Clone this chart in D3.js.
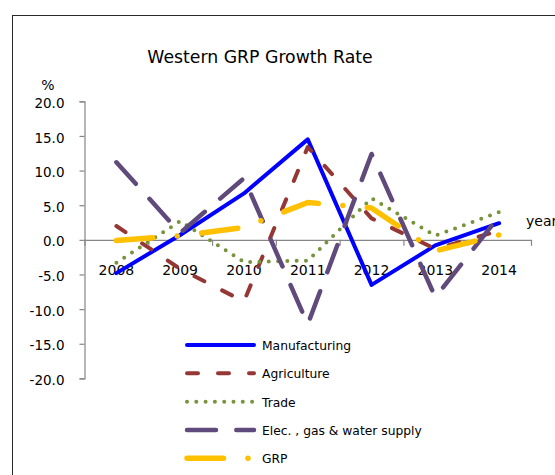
<!DOCTYPE html>
<html>
<head>
<meta charset="utf-8">
<script src="https://cdn.jsdelivr.net/npm/d3@7"></script>
<style>
  html, body { margin: 0; padding: 0; background: #fff; }
  svg { display: block; font-family: "DejaVu Sans", Verdana, sans-serif; }
</style>
</head>
<body>
<svg id="chart" width="555" height="475"></svg>
<script>
// ---- data ----
const years = ["2008", "2009", "2010", "2011", "2012", "2013", "2014"];
const manufacturing = [-4.8, 0.7, 6.7, 14.5, -6.5, -0.8, 2.4];
const agriculture   = [2.0, -4.2, -8.9, 13.4, 3.1, -1.3, 1.3];
const trade         = [-3.3, 2.7, -3.2, -3.0, 6.0, 0.6, 4.0];
const elec          = [11.2, 1.0, 8.9, -12.2, 12.4, -8.3, 3.4];
const grp           = [-0.1, 0.6, 1.8, 5.4, 4.6, -1.6, 0.7];
const seriesNames = ["Manufacturing", "Agriculture", "Trade", "Elec. , gas & water supply", "GRP"];
const yTicks = [20, 15, 10, 5, 0, -5, -10, -15, -20];
const titleText = "Western GRP Growth Rate";

// ---- styles ----
const styles = [
  { color: "#0000FF", width: 4,   dash: null },
  { color: "#953735", width: 4,   dash: "11,20" },
  { color: "#77933C", width: 4,   dash: "0,9.3" },
  { color: "#604A7B", width: 4.5, dash: "29,20.3" },
  { color: "#FFC000", width: 5.5, dash: "36.5,24.5,0,24.5" }
];
const seriesValues = [manufacturing, agriculture, trade, elec, grp];

const svg = d3.select("#chart");

// chart border
svg.append("rect")
  .attr("x", 12.5).attr("y", 15.5)
  .attr("width", 600).attr("height", 500)
  .attr("fill", "none").attr("stroke", "#2a2a2a").attr("stroke-width", 1);

// title
svg.append("text")
  .attr("x", 260).attr("y", 63)
  .attr("text-anchor", "middle")
  .attr("font-size", 17.3)
  .attr("fill", "#000")
  .text(titleText);

const plotLeft = 84.5, plotRight = 531, plotTop = 101.3, plotBottom = 378.4;

const x = d3.scaleBand().domain(years).range([plotLeft, plotRight]).padding(0);
const xb = d3.scaleLinear().domain([0, years.length]).range([plotLeft, plotRight]);
const y = d3.scaleLinear().domain([-20, 20]).range([plotBottom, plotTop]);

// y axis
const yAxis = svg.append("g")
  .attr("transform", `translate(${plotLeft},0)`)
  .call(d3.axisLeft(y).tickValues(yTicks).tickSize(5).tickPadding(15)
        .tickFormat(d => d.toFixed(1)));
yAxis.select(".domain").attr("stroke", "#868686").attr("stroke-width", 1.2);
yAxis.selectAll(".tick line").attr("stroke", "#868686").attr("stroke-width", 1.2);
yAxis.selectAll(".tick text")
  .attr("font-size", 13.5).attr("fill", "#000")
  .attr("font-family", "DejaVu Sans, sans-serif")
  .attr("dy", "0.45em");

// x axis (at zero)
const xAxis = svg.append("g")
  .attr("transform", `translate(0,${y(0)})`)
  .call(d3.axisBottom(xb).tickValues(d3.range(years.length + 1)).tickSize(6)
        .tickSizeOuter(0).tickFormat(""));
xAxis.select(".domain").attr("stroke", "#868686").attr("stroke-width", 1.2);
xAxis.selectAll(".tick line").attr("stroke", "#868686").attr("stroke-width", 1.2);

// x labels
svg.append("g").selectAll("text").data(years).join("text")
  .attr("x", d => x(d) + x.bandwidth() / 2)
  .attr("y", 275)
  .attr("text-anchor", "middle")
  .attr("font-size", 14)
  .attr("fill", "#000")
  .text(d => d);

// axis titles
svg.append("text").attr("x", 48).attr("y", 90).attr("text-anchor", "middle")
  .attr("font-size", 14).attr("fill", "#000").text("%");
svg.append("text").attr("x", 526).attr("y", 226)
  .attr("font-size", 14).attr("fill", "#000").text("year");

// lines
const line = d3.line()
  .x((d, i) => x(years[i]) + x.bandwidth() / 2)
  .y(d => y(d));

seriesValues.forEach((vals, k) => {
  const s = styles[k];
  svg.append("path")
    .datum(vals)
    .attr("d", line)
    .attr("fill", "none")
    .attr("stroke", s.color)
    .attr("stroke-width", s.width)
    .attr("stroke-linecap", "round")
    .attr("stroke-linejoin", "round")
    .attr("stroke-dasharray", s.dash);
});

// legend
const legend = svg.append("g");
const legY = d3.scaleLinear().domain([0, 4]).range([345, 458.3]);
seriesNames.forEach((name, k) => {
  const s = styles[k];
  const yy = legY(k);
  legend.append("line")
    .attr("x1", 187).attr("x2", 254)
    .attr("y1", yy).attr("y2", yy)
    .attr("stroke", s.color)
    .attr("stroke-width", s.width)
    .attr("stroke-linecap", "round")
    .attr("stroke-dasharray", s.dash);
  legend.append("text")
    .attr("x", 262).attr("y", yy + 5)
    .attr("font-size", 12.3).attr("fill", "#000")
    .text(name);
});
</script>
</body>
</html>
